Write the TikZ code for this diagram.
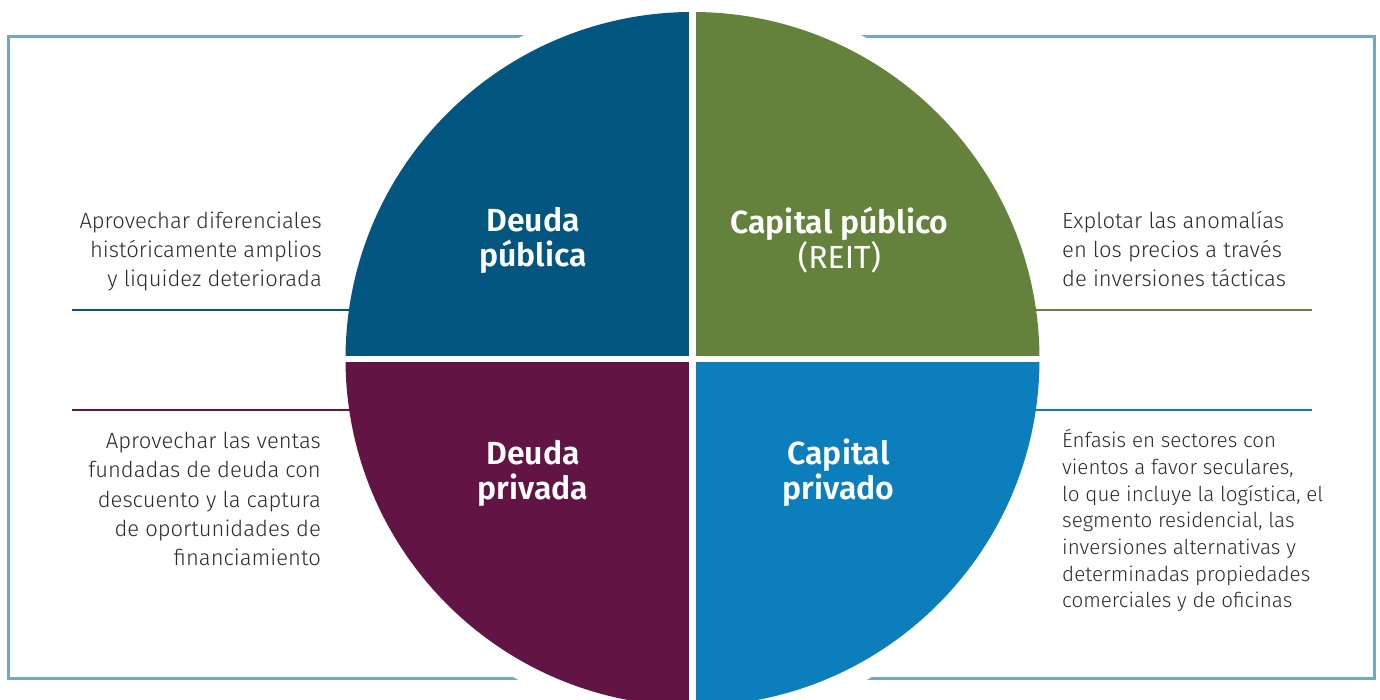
\documentclass[tikz,border=0pt]{standalone}
\usepackage{fontspec}
\setmainfont{Fira Sans Light}[BoldFont={Fira Sans SemiBold}]
\newfontfamily\regfont{Fira Sans}
\definecolor{framec}{HTML}{72A9C2}
\definecolor{pubdebt}{HTML}{02567F}
\definecolor{pubeq}{HTML}{64823C}
\definecolor{privdebt}{HTML}{621444}
\definecolor{priveq}{HTML}{0C7EBB}
\definecolor{txt}{HTML}{2B2B2B}
\begin{document}
\begin{tikzpicture}[x=1pt,y=1pt,
    desc/.style={inner sep=0pt,text=txt,font=\fontsize{22}{29.4}\selectfont},
    quad/.style={inner sep=0pt,text=white,align=center,font=\fontsize{32}{35}\selectfont\bfseries},
    lead/.style={line width=2.6pt}]
  \clip (0,0) rectangle (1380,700);
  \draw[framec,line width=3pt] (8,21) rectangle (1374,663);
  \coordinate (c) at (692.5,341);
  \fill[white] (c) circle (365);
  % leader lines
  \coordinate (tl) at (72,390);
  \coordinate (bl) at (72,290);
  \coordinate (tr) at (1312,390);
  \coordinate (br) at (1312,290);
  \draw[lead,pubdebt] (tl) -- (c |- tl);
  \draw[lead,privdebt] (bl) -- (c |- bl);
  \draw[lead,pubeq] (tr) -- (c |- tr);
  \draw[lead,priveq] (br) -- (c |- br);
  % quadrants
  \fill[pubdebt] (c) -- ++(180:347) arc[start angle=180,end angle=90,radius=347] -- cycle;
  \fill[pubeq] (c) -- ++(90:347) arc[start angle=90,end angle=0,radius=347] -- cycle;
  \fill[privdebt] (c) -- ++(180:347) arc[start angle=180,end angle=270,radius=347] -- cycle;
  \fill[priveq] (c) -- ++(270:347) arc[start angle=270,end angle=360,radius=347] -- cycle;
  \draw[white,line width=6.5pt] ([xshift=-350]c) -- ([xshift=350]c);
  \draw[white,line width=6.5pt] ([yshift=-350]c) -- ([yshift=350]c);
  \node[quad,anchor=base] (pubdebtlbl) at (533,433) {Deuda\\pública};
  \node[quad,anchor=base] (pubeqlbl) at (839.5,431) {Capital público\\{\regfont\mdseries (REIT)}};
  \node[quad,anchor=base] (privdebtlbl) at (533,200) {Deuda\\privada};
  \node[quad,anchor=base] (priveqlbl) at (838.5,200) {Capital\\privado};
  % texts
  \node[desc,anchor=base east,align=right] (pubdebttxt) at (322,413)
    {Aprovechar diferenciales\\históricamente amplios\\y liquidez deteriorada};
  \node[desc,anchor=base west,align=left] (pubeqtxt) at (1062,413)
    {Explotar las anomalías\\en los precios a través\\de inversiones tácticas};
  \node[desc,anchor=base east,align=right] (privdebttxt) at (321,134)
    {Aprovechar las ventas\\fundadas de deuda con\\descuento y la captura\\de oportunidades de\\financiamiento};
  \node[desc,anchor=base west,align=left,font=\fontsize{20.6}{26.7}\selectfont] (priveqtxt) at (1062,92)
    {Énfasis en sectores con\\vientos a favor seculares,\\lo que incluye la logística, el\\segmento residencial, las\\inversiones alternativas y\\determinadas propiedades\\comerciales y de oficinas};
\end{tikzpicture}
\end{document}
